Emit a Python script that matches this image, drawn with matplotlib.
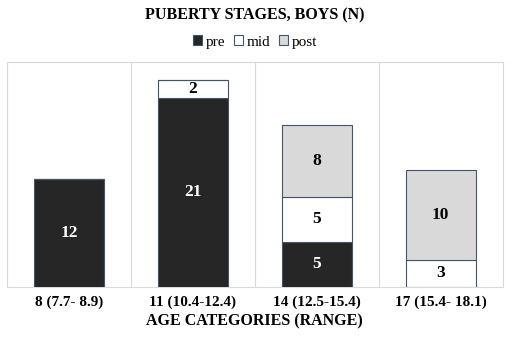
import matplotlib.pyplot as plt
import numpy as np

plt.rcParams['font.family'] = ['Liberation Serif', 'DejaVu Serif']

# data
categories = ["8 (7.7- 8.9)", "11 (10.4-12.4)", "14 (12.5-15.4)", "17 (15.4- 18.1)"]
pre = [12, 21, 5, 0]
mid = [0, 2, 5, 3]
post = [0, 0, 8, 10]

fig = plt.figure(figsize=(5.1, 3.38), dpi=100)
ax = fig.add_axes([0.0137, 0.151, 0.972, 0.666])

x = np.arange(len(categories))
w = 0.565
edge = '#44546A'
series = [("pre", pre, '#262626', 'white'),
          ("mid", mid, 'white', 'black'),
          ("post", post, '#D9D9D9', 'black')]

bottom = np.zeros(len(categories))
for name, vals, col, tcol in series:
    vals = np.array(vals, dtype=float)
    bars = ax.bar(x, vals, w, bottom=bottom, color=col, edgecolor=edge,
                  linewidth=0.8, label=name, zorder=3)
    for xi, b, v in zip(x, bottom, vals):
        if v > 0:
            ax.text(xi, b + v / 2, f"{int(v)}", ha='center', va='center',
                    color=tcol, fontsize=12.5, fontweight='bold', zorder=4)
    bottom += vals

ax.set_xlim(-0.5, len(categories) - 0.5)
ax.set_ylim(0, 25)
ax.set_yticks([])
ax.set_xticks(x)
ax.set_xticklabels(categories, fontsize=11, fontweight='bold')
ax.tick_params(axis='x', length=0, pad=6)
for xv in x[:-1] + 0.5:
    ax.axvline(xv, color='#D9D9D9', linewidth=0.8, zorder=1)
for s in ax.spines.values():
    s.set_color('#D9D9D9')
    s.set_linewidth(0.8)

ax.set_xlabel("AGE CATEGORIES (RANGE)", fontsize=11.5, fontweight='bold', labelpad=3)
fig.text(0.5, 0.955, "PUBERTY STAGES, BOYS (N)", ha='center', va='center',
         fontsize=11.5, fontweight='bold')
fig.legend(loc='center', bbox_to_anchor=(0.5, 0.876), ncol=3, frameon=False,
           fontsize=11, handlelength=0.6, handleheight=0.6, handletextpad=0.2,
           columnspacing=0.6)

fig.savefig('out.png', dpi=100)
